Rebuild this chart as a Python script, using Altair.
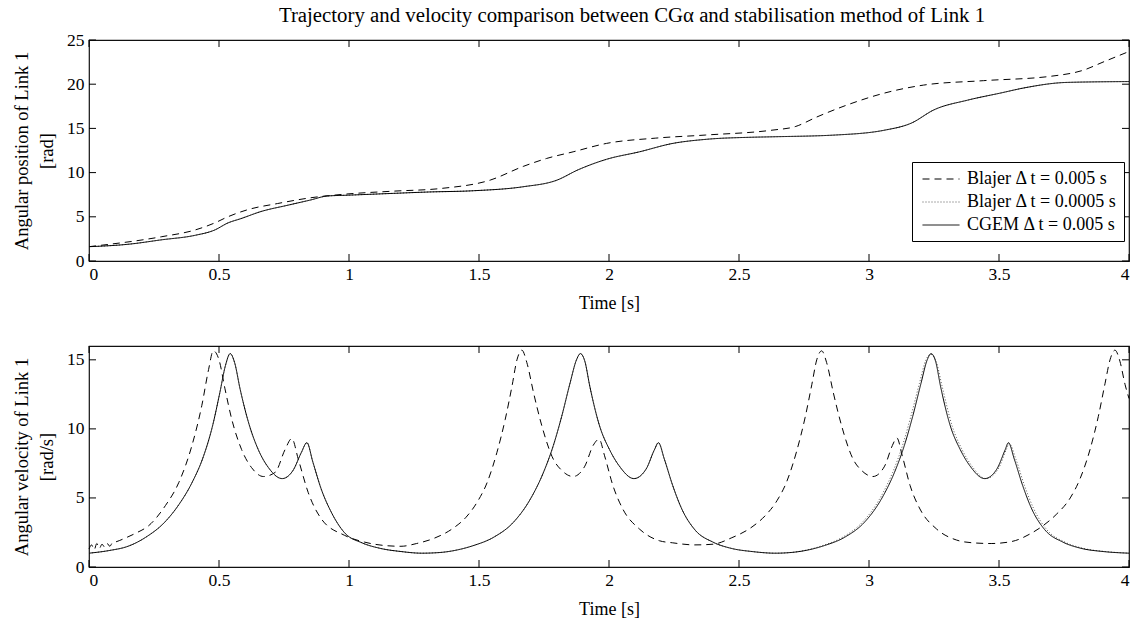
import altair as alt
import pandas as pd

TITLE = "Trajectory and velocity comparison between CG\u03b1 and stabilisation method of Link 1"
SERIES = ["Blajer \u0394 t = 0.005 s", "Blajer \u0394 t = 0.0005 s", "CGEM \u0394 t = 0.005 s"]
DASHES = [[7, 5], [1, 2], [1, 0]]
COLORS = ["#000000", "#555555", "#000000"]

X_TICKS = [0, 0.5, 1, 1.5, 2, 2.5, 3, 3.5, 4]
Y_TOP_TICKS = [0, 5, 10, 15, 20, 25]
Y_BOT_TICKS = [0, 5, 10, 15]

# ---- top panel: angular position [rad] ----
pos_dash_t = [0, 0.28, 0.407, 0.483, 0.534, 0.61, 0.725, 0.852, 0.98, 1.17, 1.352, 1.543, 1.67, 1.76,
              1.862, 1.99, 2.18, 2.372, 2.627, 2.716, 2.8, 2.93, 3.06, 3.21, 3.44, 3.7, 3.826, 3.9, 4.0]
pos_dash_v = [1.62, 2.75, 3.5, 4.3, 5.0, 5.8, 6.5, 7.15, 7.55, 7.9, 8.2, 9.15, 10.7, 11.6,
              12.35, 13.3, 13.9, 14.25, 14.8, 15.2, 16.3, 17.8, 19.0, 19.9, 20.4, 20.9, 21.6, 22.5, 23.7]

pos_cgem_t = [0, 0.153, 0.28, 0.407, 0.483, 0.534, 0.585, 0.662, 0.763, 0.852, 0.916, 1.0, 1.17, 1.3,
              1.48, 1.67, 1.8, 1.88, 1.99, 2.117, 2.245, 2.372, 2.55, 2.627, 2.87, 3.06, 3.163, 3.25,
              3.38, 3.506, 3.6, 3.76, 4.0]
pos_cgem_v = [1.62, 1.9, 2.4, 2.9, 3.5, 4.3, 4.8, 5.6, 6.3, 6.9, 7.35, 7.45, 7.65, 7.8,
              7.95, 8.4, 9.15, 10.3, 11.5, 12.35, 13.3, 13.76, 14.0, 14.05, 14.25, 14.8, 15.6, 17.1,
              18.2, 19.0, 19.6, 20.2, 20.3]

pos_dot_t = [0, 0.153, 0.28, 0.407, 0.483, 0.534, 0.585, 0.662, 0.763, 0.852, 0.916, 1.0, 1.17, 1.3,
             1.48, 1.67, 1.8, 1.88, 1.99, 2.117, 2.245, 2.372, 2.55, 2.627, 2.87, 3.06, 3.163, 3.25,
             3.38, 3.506, 3.6, 3.76, 4.0]
pos_dot_v = [1.62, 1.9, 2.4, 2.9, 3.5, 4.3, 4.8, 5.6, 6.3, 6.9, 7.35, 7.45, 7.65, 7.8,
             7.95, 8.4, 9.15, 10.3, 11.5, 12.35, 13.3, 13.76, 14.0, 14.05, 14.25, 14.8, 15.6, 17.1,
             18.2, 19.0, 19.6, 20.2, 20.3]

# ---- bottom panel: angular velocity [rad/s] ----
vel_dash_t = [0, 0.01, 0.02, 0.03, 0.04, 0.05, 0.06, 0.07, 0.08, 0.09, 0.1, 0.14, 0.18, 0.23, 0.294,
              0.345, 0.396, 0.434, 0.46, 0.478, 0.5, 0.523, 0.549, 0.587, 0.625, 0.671, 0.716, 0.754,
              0.78, 0.805, 0.843, 0.893, 0.982, 1.06, 1.14, 1.2,
              1.26, 1.33, 1.40, 1.45, 1.493, 1.531, 1.569, 1.601, 1.627, 1.646, 1.665, 1.684, 1.71,
              1.742, 1.786, 1.818, 1.862, 1.907, 1.939, 1.962, 1.983, 2.015, 2.053, 2.117, 2.194,
              2.245, 2.33,
              2.40, 2.47, 2.55, 2.60, 2.646, 2.684, 2.722, 2.754, 2.78, 2.799, 2.818, 2.837, 2.863,
              2.895, 2.939, 2.971, 3.015, 3.06, 3.09, 3.107, 3.128, 3.158, 3.196, 3.26, 3.337, 3.40,
              3.47,
              3.55, 3.62, 3.67, 3.72, 3.774, 3.812, 3.85, 3.882, 3.908, 3.927, 3.946, 3.965, 3.985, 4.0]
vel_dash_v = [1.3, 1.6, 1.25, 1.7, 1.35, 1.65, 1.45, 1.7, 1.5, 1.75, 1.8, 2.1, 2.45, 3.0, 4.45,
              6.1, 8.8, 11.7, 14.3, 15.65, 15.0, 12.9, 10.7, 8.5, 7.2, 6.55, 6.85, 8.5,
              9.3, 7.8, 5.4, 3.5, 2.3, 1.8, 1.55, 1.5,
              1.7, 2.1, 2.8, 3.6, 4.7, 6.1, 8.3, 10.7, 13.1, 15.0, 15.7, 14.8, 12.6,
              10.2, 7.8, 7.0, 6.55, 7.3, 8.8, 9.25, 8.05, 5.9, 4.2, 2.75, 1.9,
              1.75, 1.6,
              1.65, 2.1, 2.9, 3.7, 4.8, 6.2, 8.4, 10.8, 13.2, 15.0, 15.65, 14.8, 12.6,
              10.2, 7.8, 7.0, 6.55, 7.3, 8.8, 9.35, 8.05, 5.9, 4.2, 2.75, 1.95, 1.75,
              1.7,
              1.85, 2.4, 3.0, 3.8, 5.0, 6.4, 8.5, 10.9, 13.3, 15.0, 15.7, 14.9, 13.2, 12.2]

vel_cgem_t = [0, 0.08, 0.15, 0.218, 0.294, 0.345, 0.396, 0.44, 0.475, 0.503, 0.525, 0.543, 0.56, 0.581,
              0.613, 0.651, 0.69, 0.743, 0.785, 0.817, 0.838, 0.861, 0.893, 0.931, 0.982, 1.05, 1.12,
              1.2, 1.28,
              1.35, 1.42, 1.48, 1.557, 1.633, 1.697, 1.748, 1.786, 1.818, 1.85, 1.875, 1.89, 1.907,
              1.926, 1.964, 2.002, 2.04, 2.096, 2.143, 2.175, 2.19, 2.213, 2.245, 2.28, 2.33, 2.40,
              2.47, 2.55, 2.64,
              2.70, 2.77, 2.83, 2.907, 2.983, 3.047, 3.098, 3.136, 3.168, 3.20, 3.224, 3.239, 3.256,
              3.275, 3.313, 3.351, 3.389, 3.445, 3.492, 3.524, 3.536, 3.559, 3.591, 3.626, 3.676,
              3.746, 3.816, 3.90, 4.0]
vel_cgem_v = [1.0, 1.2, 1.5, 2.15, 3.3, 4.5, 6.1, 8.0, 10.2, 12.6, 14.6, 15.45, 14.8, 12.9,
              10.5, 8.5, 7.2, 6.4, 7.0, 8.3, 9.0, 7.6, 5.65, 4.0, 2.5, 1.75, 1.35,
              1.12, 1.0,
              1.05, 1.25, 1.56, 2.16, 3.25, 4.9, 6.85, 8.8, 10.9, 13.3, 15.0, 15.45, 14.9,
              13.1, 10.2, 8.5, 7.3, 6.4, 7.1, 8.5, 9.0, 7.8, 5.9, 4.2, 2.7, 1.8,
              1.35, 1.12, 1.0,
              1.05, 1.25, 1.56, 2.16, 3.25, 4.9, 6.85, 8.8, 10.9, 13.3, 15.0, 15.45, 14.9,
              13.1, 10.2, 8.5, 7.3, 6.4, 7.1, 8.5, 9.0, 7.8, 5.9, 4.2, 2.7,
              1.8, 1.35, 1.12, 1.0]

vel_dot_t = [0, 0.08, 0.15, 0.218, 0.294, 0.345, 0.396, 0.44, 0.475, 0.503, 0.525, 0.543, 0.56, 0.581,
             0.613, 0.651, 0.69, 0.743, 0.785, 0.817, 0.838, 0.861, 0.893, 0.931, 0.982, 1.05, 1.12,
             1.2, 1.28,
             1.35, 1.42, 1.48, 1.557, 1.633, 1.697, 1.748, 1.786, 1.818, 1.85, 1.875, 1.89, 1.907,
             1.926, 1.964, 2.002, 2.04, 2.096, 2.143, 2.175, 2.19, 2.213, 2.245, 2.28, 2.33, 2.40,
             2.47, 2.55, 2.64,
             2.70, 2.765, 2.823, 2.899, 2.975, 3.04, 3.091, 3.129, 3.161, 3.194, 3.219, 3.237, 3.258,
             3.281, 3.32, 3.358, 3.396, 3.45, 3.497, 3.528, 3.539, 3.565, 3.598, 3.634, 3.684,
             3.754, 3.824, 3.91, 4.0]
vel_dot_v = [1.0, 1.2, 1.5, 2.15, 3.3, 4.5, 6.1, 8.0, 10.2, 12.6, 14.6, 15.45, 14.8, 12.9,
             10.5, 8.5, 7.2, 6.4, 7.0, 8.3, 9.0, 7.6, 5.65, 4.0, 2.5, 1.75, 1.35,
             1.12, 1.0,
             1.05, 1.25, 1.56, 2.16, 3.25, 4.9, 6.85, 8.8, 10.9, 13.3, 15.0, 15.45, 14.9,
             13.1, 10.2, 8.5, 7.3, 6.4, 7.1, 8.5, 9.0, 7.8, 5.9, 4.2, 2.7, 1.8,
             1.35, 1.12, 1.0,
             1.05, 1.25, 1.56, 2.16, 3.25, 4.9, 6.85, 8.8, 10.9, 13.3, 15.0, 15.4, 14.9,
             13.1, 10.2, 8.5, 7.3, 6.4, 7.1, 8.5, 8.95, 7.8, 5.9, 4.2, 2.7,
             1.8, 1.35, 1.12, 1.0]


def frame(series_lists):
    rows = []
    for name, ts, vs in series_lists:
        for i, (t, v) in enumerate(zip(ts, vs)):
            rows.append({"series": name, "t": t, "v": v, "order": i})
    return pd.DataFrame(rows)


df_top = frame([(SERIES[0], pos_dash_t, pos_dash_v), (SERIES[1], pos_dot_t, pos_dot_v),
                (SERIES[2], pos_cgem_t, pos_cgem_v)])
df_bot = frame([(SERIES[0], vel_dash_t, vel_dash_v), (SERIES[1], vel_dot_t, vel_dot_v),
                (SERIES[2], vel_cgem_t, vel_cgem_v)])

W = 1040
H = 221
TICK = 7
FONT = "Liberation Serif"
XDOM = [0, 4]


def panel(df, ydom, yticks, ytitle, show_legend):
    legend = alt.Legend(
        title=None, orient="none", legendX=823, legendY=122, direction="vertical",
        strokeColor="black", fillColor="white", padding=7, cornerRadius=0,
        symbolType="M-2,0H2", symbolSize=342, symbolStrokeWidth=1, symbolOffset=12,
        rowPadding=4, labelFont=FONT, labelFontSize=18, labelColor="black", labelLimit=400,
        labelOffset=16,
    ) if show_legend else None
    xs = alt.Scale(domain=XDOM, nice=False, zero=False)
    ys = alt.Scale(domain=ydom, nice=False)
    lines = alt.Chart(df).mark_line(interpolate="monotone", strokeWidth=1).encode(
        x=alt.X("t:Q", scale=xs,
                axis=alt.Axis(values=X_TICKS, format="~g", title="Time [s]", ticks=False,
                              domain=False, grid=False, labelPadding=4, titlePadding=12,
                              titleFontSize=18)),
        y=alt.Y("v:Q", scale=ys,
                axis=alt.Axis(values=yticks, title=ytitle, ticks=False, domain=False, grid=False,
                              labelPadding=5, titlePadding=10)),
        strokeDash=alt.StrokeDash("series:N", scale=alt.Scale(domain=SERIES, range=DASHES),
                                  legend=legend),
        color=alt.Color("series:N", scale=alt.Scale(domain=SERIES, range=COLORS), legend=legend),
        order="order:Q",
    )
    xt = pd.DataFrame({"t": X_TICKS})
    yt = pd.DataFrame({"v": yticks})
    tk = dict(color="black", strokeWidth=1)
    top_ticks = alt.Chart(xt).mark_rule(**tk).encode(
        x=alt.X("t:Q", scale=xs), y=alt.value(0), y2=alt.value(TICK))
    bot_ticks = alt.Chart(xt).mark_rule(**tk).encode(
        x=alt.X("t:Q", scale=xs), y=alt.value(H - TICK), y2=alt.value(H))
    left_ticks = alt.Chart(yt).mark_rule(**tk).encode(
        y=alt.Y("v:Q", scale=ys), x=alt.value(0), x2=alt.value(TICK))
    right_ticks = alt.Chart(yt).mark_rule(**tk).encode(
        y=alt.Y("v:Q", scale=ys), x=alt.value(W - TICK), x2=alt.value(W))
    return alt.layer(lines, top_ticks, bot_ticks, left_ticks, right_ticks).properties(
        width=W, height=H)


top = panel(df_top, [0, 25], Y_TOP_TICKS, ["Angular position of Link 1", "[rad]"], True).properties(
    title=alt.TitleParams(text=TITLE, font=FONT, fontSize=20.8, fontWeight="normal", color="black",
                          anchor="middle", frame="group", offset=4, dx=23))
bottom = panel(df_bot, [0, 16], Y_BOT_TICKS, ["Angular velocity of Link 1", "[rad/s]"], False)

chart = alt.vconcat(top, bottom, spacing=30).properties(
    padding={"left": 11, "top": 4, "right": 0, "bottom": 0},
    background="white",
).configure_view(
    stroke="#111111", strokeWidth=1.2
).configure_axis(
    labelFont=FONT, titleFont=FONT, labelFontSize=17.5, titleFontSize=18.5, labelColor="black",
    titleColor="black", titleFontWeight="normal", titleLineHeight=25
)

chart.save("out.html", embed_options={"renderer": "svg", "actions": False})
